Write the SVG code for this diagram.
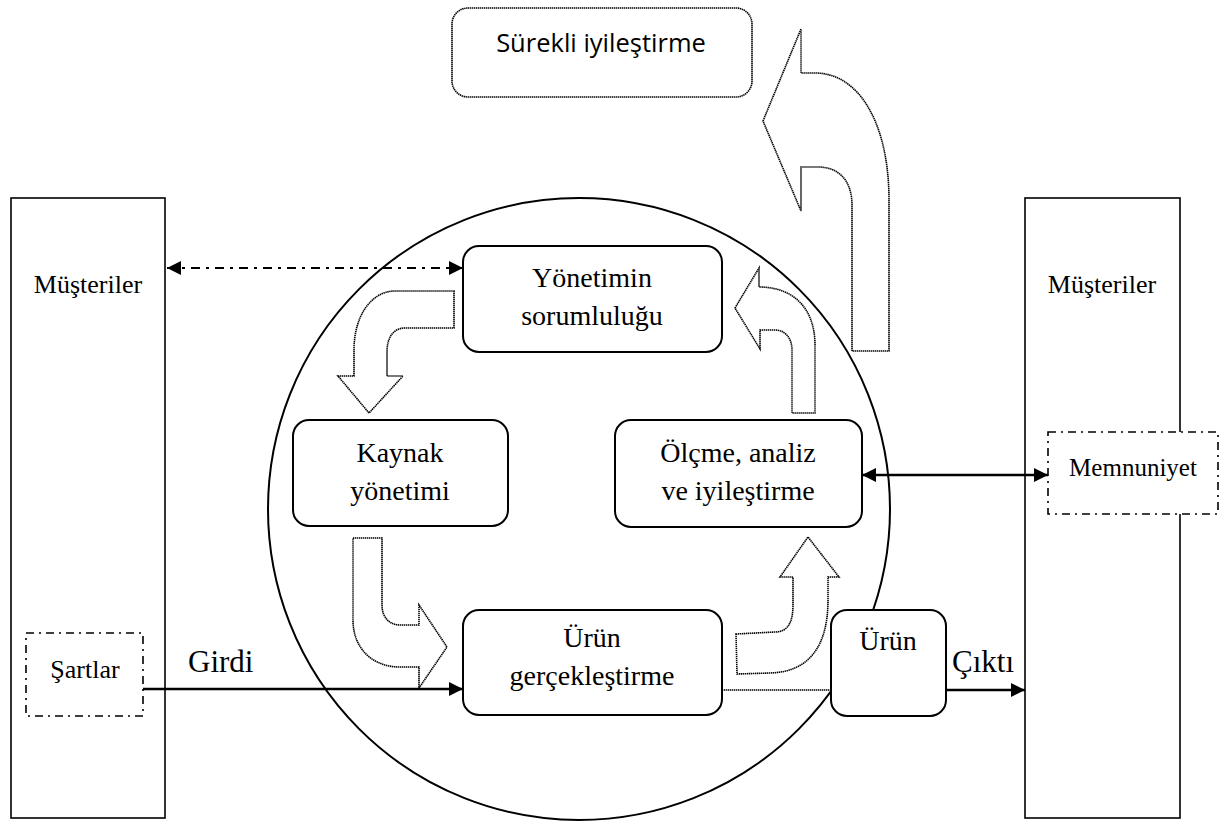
<svg xmlns="http://www.w3.org/2000/svg" width="1221" height="821" viewBox="0 0 1221 821">
<style>
.t{font-family:"Liberation Serif","Times New Roman",serif;fill:#000;text-anchor:middle}
.bx{fill:#fff;stroke:#000;stroke-width:2}
.ba{fill:#fff;stroke:#000;stroke-width:1.6;stroke-dasharray:1.4 0.6}
.dd{fill:#fff;stroke:#000;stroke-width:1.6;stroke-dasharray:8 5 2 5}
.ln{stroke:#000;stroke-width:2.5;fill:none}
</style>
<defs>
<marker id="ah" viewBox="0 0 10 10" refX="10" refY="5" markerWidth="16" markerHeight="14" markerUnits="userSpaceOnUse" orient="auto-start-reverse">
<path d="M0,0 L10,5 L0,10 Z" fill="#000"/>
</marker>
</defs>
<rect width="1221" height="821" fill="#fff"/>
<g id="musteriler-left">
<rect x="11" y="198" width="154" height="620" fill="#fff" stroke="#000" stroke-width="1.6"/>
<text class="t" x="88" y="293" font-size="26">Müşteriler</text>
</g>
<g id="musteriler-right">
<rect x="1025" y="198" width="155" height="620" fill="#fff" stroke="#000" stroke-width="1.6"/>
<text class="t" x="1102" y="293" font-size="26">Müşteriler</text>
</g>
<g id="circle">
<circle cx="579" cy="509" r="311" fill="none" stroke="#000" stroke-width="2"/>
</g>
<g id="surekli">
<rect x="452" y="8" width="300" height="89" rx="16" fill="#fff" stroke="#000" stroke-width="1.6" stroke-dasharray="1.4 0.6"/>
<text x="601" y="52" font-family="'Open Sans','Noto Sans',sans-serif" font-size="25.5" text-anchor="middle" fill="#000">Sürekli iyileştirme</text>
</g>
<g id="block-arrows">
<path class="ba" d="M763,121 L801,29 L801,73 L815,73 C860,73 889,125 889,200 L889,351 L852,351 L852,205 C852,182 840,167 818,167 L801,167 L801,211 Z"/>
<path class="ba" d="M454,291 L454,328 L405,328 C393,328 387,338 387,352 L387,376 L403,376 L369,413 L338,376 L354,376 L354,350 C354,315 372,291 395,291 Z"/>
<path class="ba" d="M353,538 L382,538 L382,605 C382,618 390,625 400,625 L419,625 L419,605 L447,647 L419,688 L419,667 L400,667 C372,667 353,648 353,620 Z"/>
<path class="ba" d="M736,634 L775,632 C788,632 793,622 793,605 L793,577 L780,577 L808,537 L839,577 L828,577 L828,600 C828,645 810,672 770,673 L737,674 Z"/>
<path class="ba" d="M735,308 L759,268 L759,287 C795,287 815,310 815,345 L815,413 L792,413 L792,350 C792,338 785,330 775,330 L760,330 L760,349 Z"/>
</g>
<g id="connectors">
<line x1="167" y1="268" x2="463" y2="268" stroke="#000" stroke-width="2.2" stroke-dasharray="9 6 3 6" marker-start="url(#ah)" marker-end="url(#ah)"/>
<line x1="862" y1="475" x2="1048" y2="475" class="ln" marker-start="url(#ah)" marker-end="url(#ah)"/>
<line x1="143" y1="689" x2="463" y2="689" class="ln" marker-end="url(#ah)"/>
<line x1="722" y1="690" x2="831" y2="690" stroke="#000" stroke-width="1.5" stroke-dasharray="1.4 0.6"/>
<line x1="946" y1="690" x2="1025" y2="690" class="ln" marker-end="url(#ah)"/>
</g>
<g id="yonetimin">
<rect class="bx" x="463" y="246" width="259" height="106" rx="16"/>
<text class="t" x="592" y="287" font-size="28">Yönetimin</text>
<text class="t" x="592" y="325" font-size="28">sorumluluğu</text>
</g>
<g id="kaynak">
<rect class="bx" x="293" y="420" width="215" height="106" rx="16"/>
<text class="t" x="400" y="462" font-size="28">Kaynak</text>
<text class="t" x="400" y="500" font-size="28">yönetimi</text>
</g>
<g id="olcme">
<rect class="bx" x="615" y="420" width="247" height="107" rx="16"/>
<text class="t" x="738" y="462" font-size="28">Ölçme, analiz</text>
<text class="t" x="738" y="500" font-size="28">ve iyileştirme</text>
</g>
<g id="urun-gerceklestirme">
<rect class="bx" x="463" y="610" width="259" height="105" rx="16"/>
<text class="t" x="592" y="647" font-size="28">Ürün</text>
<text class="t" x="592" y="685" font-size="28">gerçekleştirme</text>
</g>
<g id="urun">
<rect class="bx" x="831" y="610" width="115" height="106" rx="16"/>
<text class="t" x="888" y="650" font-size="28">Ürün</text>
</g>
<g id="sartlar">
<rect class="dd" x="26" y="633" width="117" height="83"/>
<text class="t" x="85" y="678" font-size="26">Şartlar</text>
</g>
<g id="memnuniyet">
<rect class="dd" x="1048" y="432" width="170" height="82"/>
<text class="t" x="1133" y="476" font-size="25">Memnuniyet</text>
</g>
<g id="labels">
<text class="t" x="188" y="672" font-size="31" style="text-anchor:start">Girdi</text>
<text class="t" x="952" y="672" font-size="31" style="text-anchor:start">Çıktı</text>
</g>
</svg>
